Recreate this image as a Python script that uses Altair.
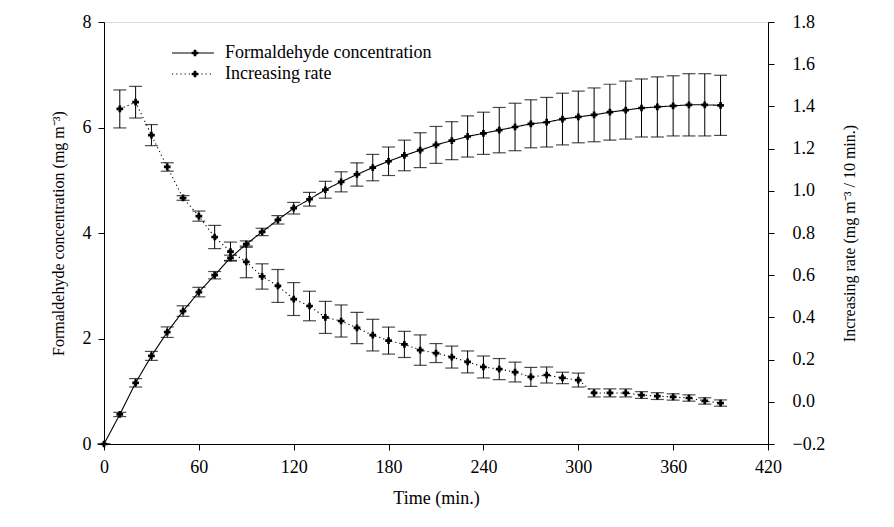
import altair as alt
import pandas as pd

# ---- data ----
time_conc = list(range(0, 400, 10))
conc = [0.00, 0.56, 1.16, 1.67, 2.12, 2.52, 2.88, 3.20, 3.53, 3.79,
        4.02, 4.25, 4.47, 4.64, 4.82, 4.97, 5.11, 5.24, 5.36, 5.47,
        5.57, 5.67, 5.75, 5.83, 5.89, 5.95, 6.01, 6.07, 6.10, 6.16,
        6.20, 6.24, 6.29, 6.33, 6.37, 6.39, 6.41, 6.43, 6.43, 6.42]
conc_err = [0.00, 0.04, 0.08, 0.085, 0.10, 0.10, 0.09, 0.07, 0.05, 0.06,
            0.07, 0.08, 0.11, 0.13, 0.16, 0.19, 0.22, 0.25, 0.27, 0.29,
            0.33, 0.35, 0.36, 0.39, 0.40, 0.43, 0.45, 0.455, 0.47, 0.49,
            0.49, 0.51, 0.53, 0.55, 0.55, 0.57, 0.57, 0.59, 0.59, 0.57]

time_rate = list(range(10, 400, 10))
rate = [1.388, 1.420, 1.264, 1.113, 0.966, 0.880, 0.781, 0.712, 0.663, 0.594,
        0.549, 0.487, 0.454, 0.400, 0.383, 0.350, 0.316, 0.290, 0.272, 0.245,
        0.231, 0.212, 0.189, 0.165, 0.155, 0.141, 0.118, 0.127, 0.113, 0.103,
        0.042, 0.042, 0.042, 0.032, 0.027, 0.023, 0.018, 0.004, -0.006]
rate_err = [0.090, 0.075, 0.050, 0.020, 0.011, 0.024, 0.055, 0.045, 0.075, 0.060,
            0.078, 0.078, 0.070, 0.076, 0.076, 0.074, 0.075, 0.064, 0.062, 0.072,
            0.045, 0.052, 0.052, 0.052, 0.050, 0.047, 0.045, 0.038, 0.027, 0.033,
            0.019, 0.019, 0.019, 0.016, 0.016, 0.015, 0.015, 0.015, 0.015]

x_ticks = [0, 60, 120, 180, 240, 300, 360, 420]
left_ticks = [0, 2, 4, 6, 8]
right_ticks = [-0.2, 0.0, 0.2, 0.4, 0.6, 0.8, 1.0, 1.2, 1.4, 1.6, 1.8]
legend_labels = ["Formaldehyde concentration", "Increasing rate"]

FONT = "Liberation Serif"
FS = 18
FS_YT = 16

conc_df = pd.DataFrame({
    "t": time_conc, "v": conc,
    "lo": [v - e for v, e in zip(conc, conc_err)],
    "hi": [v + e for v, e in zip(conc, conc_err)],
})
rate_df = pd.DataFrame({
    "t": time_rate, "v": rate,
    "lo": [v - e for v, e in zip(rate, rate_err)],
    "hi": [v + e for v, e in zip(rate, rate_err)],
})

x_scale = alt.Scale(domain=[0, 420], nice=False, zero=False)
x_axis = alt.Axis(values=x_ticks, title="Time (min.)", grid=False,
                  labelFont=FONT, labelFontSize=FS, titleFont=FONT, titleFontSize=FS,
                  titleFontWeight="normal", labelColor="black", titleColor="black",
                  domainColor="black", tickColor="black", tickSize=6, labelPadding=8,
                  titlePadding=13, labelFlush=False)
yl_scale = alt.Scale(domain=[0, 8], nice=False, zero=False)
yl_axis = alt.Axis(values=left_ticks, title="Formaldehyde concentration (mg m⁻³)",
                   grid=False, orient="left",
                   labelFont=FONT, labelFontSize=FS, titleFont=FONT, titleFontSize=FS_YT,
                   titleFontWeight="normal", labelColor="black", titleColor="black",
                   domainColor="black", tickColor="black", tickSize=6, labelPadding=7,
                   titlePadding=16, labelFlush=False)
yr_scale = alt.Scale(domain=[-0.2, 1.8], nice=False, zero=False)
yr_axis = alt.Axis(values=right_ticks, title="Increasing rate (mg m⁻³ / 10 min.)",
                   grid=False, orient="right", format=".1f", titleAngle=270,
                   labelFont=FONT, labelFontSize=FS, titleFont=FONT, titleFontSize=FS_YT,
                   titleFontWeight="normal", labelColor="black", titleColor="black",
                   domainColor="black", tickColor="black", tickSize=6, labelPadding=18,
                   titlePadding=33, labelFlush=False, titleBaseline="bottom")

X = alt.X("t:Q", scale=x_scale, axis=x_axis)


def series_layer(df, scale, axis, dash):
    base = alt.Chart(df)
    Y = alt.Y("v:Q", scale=scale, axis=axis)
    line = base.mark_line(color="black", strokeWidth=1.1, strokeDash=dash).encode(x=X, y=Y)
    bar = base.mark_rule(color="black", strokeWidth=1).encode(
        x=X, y=alt.Y("lo:Q", scale=scale, axis=axis), y2="hi:Q")
    cap_lo = base.mark_tick(orient="horizontal", size=13, thickness=1.2, color="black").encode(
        x=X, y=alt.Y("lo:Q", scale=scale, axis=axis))
    cap_hi = base.mark_tick(orient="horizontal", size=13, thickness=1.2, color="black").encode(
        x=X, y=alt.Y("hi:Q", scale=scale, axis=axis))
    pts = base.mark_point(shape="cross", filled=True, size=45, color="black", opacity=1).encode(
        x=X, y=Y)
    return alt.layer(line, bar, cap_lo, cap_hi, pts)


left = series_layer(conc_df, yl_scale, yl_axis, [1, 0])
right = series_layer(rate_df, yr_scale, yr_axis, [1.2, 3])

# legend (decoration)
leg_df = pd.DataFrame({"label": legend_labels})
leg_items = []
for i, (lab, dash) in enumerate(zip(legend_labels, [[1, 0], [1.2, 3]])):
    d = leg_df[leg_df["label"] == lab]
    yy = 31 + 21 * i
    leg_items.append(alt.Chart(d).mark_rule(color="black", strokeWidth=1.1, strokeDash=dash).encode(
        x=alt.value(68), x2=alt.value(110), y=alt.value(yy)))
    leg_items.append(alt.Chart(d).mark_point(shape="cross", filled=True, size=45, color="black",
                                             opacity=1).encode(x=alt.value(91), y=alt.value(yy)))
    leg_items.append(alt.Chart(d).mark_text(align="left", baseline="middle", font=FONT,
                                            fontSize=FS, color="black").encode(
        x=alt.value(121), y=alt.value(yy), text="label:N"))
legend = alt.layer(*leg_items)

chart = alt.layer(left, right, legend).resolve_scale(y="independent").properties(
    width=664, height=422,
    autosize=alt.AutoSizeParams(type="none"),
    padding={"left": 96, "top": 14, "right": 118, "bottom": 75},
).configure_view(stroke=None).configure(background="white")

chart.save("out.html", embed_options={"renderer": "svg", "actions": False})
